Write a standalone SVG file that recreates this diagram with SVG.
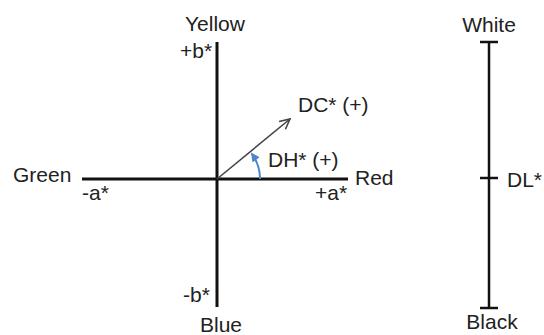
<svg xmlns="http://www.w3.org/2000/svg" width="544" height="335" viewBox="0 0 544 335">
  <style>
    text { font-family: "Liberation Sans", Arial, sans-serif; font-size: 21px; fill: #222; }
    .axis { stroke: #111; stroke-width: 3; fill: none; }
    .scale { stroke: #111; stroke-width: 2.5; fill: none; }
    .vec { stroke: #444; stroke-width: 1.6; fill: none; }
    .hue { stroke: #4a86c8; stroke-width: 2; fill: none; }
  </style>
  <defs>
    <marker id="open" viewBox="0 0 12 12" refX="11" refY="6" markerWidth="12" markerHeight="12" markerUnits="userSpaceOnUse" orient="auto">
      <path d="M1 1 L11 6 L1 11" fill="none" stroke="#444" stroke-width="1.6"/>
    </marker>
    <marker id="blue" viewBox="0 0 10 10" refX="8" refY="5" markerWidth="9" markerHeight="9" markerUnits="userSpaceOnUse" orient="auto">
      <path d="M0 0 L10 5 L0 10 Z" fill="#4a86c8"/>
    </marker>
  </defs>

  <g id="connectors">
    <line id="b-axis" class="axis" x1="217" y1="42" x2="217" y2="307"/>
    <line id="a-axis" class="axis" x1="82" y1="179" x2="348" y2="179"/>
    <line id="dc-vector" class="vec" x1="217" y1="179" x2="290" y2="119" marker-end="url(#open)"/>
    <path id="dh-arc" class="hue" d="M 260 179 A 43 43 0 0 0 252 154" marker-end="url(#blue)"/>
    <line id="l-axis" class="scale" x1="489" y1="42" x2="489" y2="308"/>
    <line class="scale" x1="480" y1="42" x2="498" y2="42"/>
    <line class="scale" x1="480" y1="178" x2="498" y2="178"/>
    <line class="scale" x1="480" y1="308" x2="498" y2="308"/>
  </g>

  <g id="yellow"><text x="215" y="31" text-anchor="middle">Yellow</text></g>
  <g id="plus-b"><text x="180" y="58">+b*</text></g>
  <g id="green"><text x="13" y="182">Green</text></g>
  <g id="minus-a"><text x="82" y="200">-a*</text></g>
  <g id="dc"><text x="298" y="112">DC* (+)</text></g>
  <g id="dh"><text x="268" y="167">DH* (+)</text></g>
  <g id="red"><text x="355" y="185">Red</text></g>
  <g id="plus-a"><text x="315" y="200">+a*</text></g>
  <g id="minus-b"><text x="183" y="302">-b*</text></g>
  <g id="blue-label"><text x="221" y="332" text-anchor="middle">Blue</text></g>
  <g id="white"><text x="489" y="32" text-anchor="middle">White</text></g>
  <g id="dl"><text x="507" y="187">DL*</text></g>
  <g id="black"><text x="492" y="329" text-anchor="middle">Black</text></g>
</svg>
